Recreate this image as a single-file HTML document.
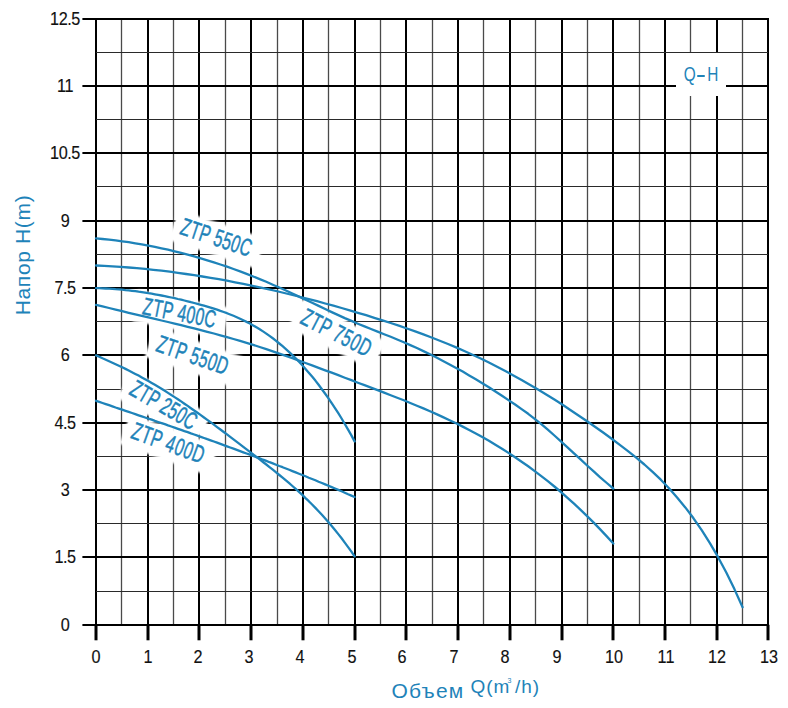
<!DOCTYPE html>
<html><head><meta charset="utf-8"><style>
html,body{margin:0;padding:0;background:#fff;}
body{width:788px;height:708px;position:relative;overflow:hidden;font-family:"Liberation Sans",sans-serif;}
svg{position:absolute;left:0;top:0;}
.yl{position:absolute;left:34.8px;width:60px;text-align:center;font-size:18px;line-height:20px;color:#111;letter-spacing:-0.5px;transform:scaleX(0.9);-webkit-text-stroke:0.15px #111;}
.xl{position:absolute;top:647.3px;width:40px;text-align:center;font-size:18px;line-height:20px;color:#111;transform:scaleX(0.9);-webkit-text-stroke:0.15px #111;}
.lab{position:absolute;width:0;height:0;transform-origin:0 0;}
.lab span{position:absolute;left:-7.3px;bottom:-6px;display:block;white-space:nowrap;background:#fff;box-shadow:0 0 3px 2px #fff;color:#1e83b9;-webkit-text-stroke:0.5px #1e83b9;font-size:24.5px;letter-spacing:0.7px;line-height:23px;padding:1px 14px 4px 10px;transform:scaleX(0.64);transform-origin:0 100%;}
.qh{position:absolute;left:676px;top:53px;width:50px;height:43px;background:#fff;}
.qh span{position:absolute;left:0;top:8.5px;width:50px;text-align:center;color:#1e83b9;font-size:20.5px;line-height:23px;transform:scaleX(0.75);}
.qh i{display:inline-block;width:10px;height:2px;background:#1e83b9;vertical-align:middle;margin:0 3px 0 2.5px;position:relative;top:0.5px;}
.yt{position:absolute;left:22.5px;top:255px;width:0;height:0;}
.yt span{position:absolute;left:0;top:0;white-space:nowrap;color:#1e83b9;font-size:21px;letter-spacing:0.65px;line-height:24px;transform:translate(-50%,-50%) rotate(-90deg);}
.xt{position:absolute;left:391px;top:0;white-space:nowrap;color:#1e83b9;}
.xt1{position:absolute;left:391.5px;top:678.5px;font-size:21px;line-height:24px;letter-spacing:1.2px;color:#1e83b9;white-space:nowrap;}
.xt2{position:absolute;left:470.5px;top:676px;font-size:19px;line-height:22px;letter-spacing:0.9px;color:#1e83b9;white-space:nowrap;}
.xt2 b{font-weight:normal;position:absolute;font-size:7px;line-height:8px;left:37px;top:1px;}
</style></head><body>
<svg width="788" height="708" viewBox="0 0 788 708">
<line x1="96" y1="18" x2="96" y2="624.80" stroke="#000" stroke-width="2"/><line x1="121.5" y1="18.60" x2="121.5" y2="624.80" stroke="#4a4a4a" stroke-width="1.3"/><line x1="148" y1="18" x2="148" y2="624.80" stroke="#000" stroke-width="2"/><line x1="173.5" y1="18.60" x2="173.5" y2="624.80" stroke="#4a4a4a" stroke-width="1.3"/><line x1="199" y1="18" x2="199" y2="624.80" stroke="#000" stroke-width="2"/><line x1="225.5" y1="18.60" x2="225.5" y2="624.80" stroke="#4a4a4a" stroke-width="1.3"/><line x1="251" y1="18" x2="251" y2="624.80" stroke="#000" stroke-width="2"/><line x1="277.5" y1="18.60" x2="277.5" y2="624.80" stroke="#4a4a4a" stroke-width="1.3"/><line x1="303" y1="18" x2="303" y2="624.80" stroke="#000" stroke-width="2"/><line x1="328.5" y1="18.60" x2="328.5" y2="624.80" stroke="#4a4a4a" stroke-width="1.3"/><line x1="355" y1="18" x2="355" y2="624.80" stroke="#000" stroke-width="2"/><line x1="380.5" y1="18.60" x2="380.5" y2="624.80" stroke="#4a4a4a" stroke-width="1.3"/><line x1="406" y1="18" x2="406" y2="624.80" stroke="#000" stroke-width="2"/><line x1="432.5" y1="18.60" x2="432.5" y2="624.80" stroke="#4a4a4a" stroke-width="1.3"/><line x1="458" y1="18" x2="458" y2="624.80" stroke="#000" stroke-width="2"/><line x1="483.5" y1="18.60" x2="483.5" y2="624.80" stroke="#4a4a4a" stroke-width="1.3"/><line x1="510" y1="18" x2="510" y2="624.80" stroke="#000" stroke-width="2"/><line x1="535.5" y1="18.60" x2="535.5" y2="624.80" stroke="#4a4a4a" stroke-width="1.3"/><line x1="562" y1="18" x2="562" y2="624.80" stroke="#000" stroke-width="2"/><line x1="587.5" y1="18.60" x2="587.5" y2="624.80" stroke="#4a4a4a" stroke-width="1.3"/><line x1="613" y1="18" x2="613" y2="624.80" stroke="#000" stroke-width="2"/><line x1="639.5" y1="18.60" x2="639.5" y2="624.80" stroke="#4a4a4a" stroke-width="1.3"/><line x1="665" y1="18" x2="665" y2="624.80" stroke="#000" stroke-width="2"/><line x1="690.5" y1="18.60" x2="690.5" y2="624.80" stroke="#4a4a4a" stroke-width="1.3"/><line x1="717" y1="18" x2="717" y2="624.80" stroke="#000" stroke-width="2"/><line x1="742.5" y1="18.60" x2="742.5" y2="624.80" stroke="#4a4a4a" stroke-width="1.3"/><line x1="768" y1="18" x2="768" y2="624.80" stroke="#000" stroke-width="2"/><line x1="82.4" y1="625" x2="769" y2="625" stroke="#000" stroke-width="2"/><line x1="96.00" y1="591.5" x2="768" y2="591.5" stroke="#2a2a2a" stroke-width="1.15"/><line x1="82.4" y1="557" x2="769" y2="557" stroke="#000" stroke-width="2"/><line x1="96.00" y1="523.5" x2="768" y2="523.5" stroke="#2a2a2a" stroke-width="1.15"/><line x1="82.4" y1="490" x2="769" y2="490" stroke="#000" stroke-width="2"/><line x1="96.00" y1="456.5" x2="768" y2="456.5" stroke="#2a2a2a" stroke-width="1.15"/><line x1="82.4" y1="423" x2="769" y2="423" stroke="#000" stroke-width="2"/><line x1="96.00" y1="389.5" x2="768" y2="389.5" stroke="#2a2a2a" stroke-width="1.15"/><line x1="82.4" y1="355" x2="769" y2="355" stroke="#000" stroke-width="2"/><line x1="96.00" y1="321.5" x2="768" y2="321.5" stroke="#2a2a2a" stroke-width="1.15"/><line x1="82.4" y1="288" x2="769" y2="288" stroke="#000" stroke-width="2"/><line x1="96.00" y1="254.5" x2="768" y2="254.5" stroke="#2a2a2a" stroke-width="1.15"/><line x1="82.4" y1="221" x2="769" y2="221" stroke="#000" stroke-width="2"/><line x1="96.00" y1="186.5" x2="768" y2="186.5" stroke="#2a2a2a" stroke-width="1.15"/><line x1="82.4" y1="153" x2="769" y2="153" stroke="#000" stroke-width="2"/><line x1="96.00" y1="119.5" x2="768" y2="119.5" stroke="#2a2a2a" stroke-width="1.15"/><line x1="82.4" y1="86" x2="769" y2="86" stroke="#000" stroke-width="2"/><line x1="96.00" y1="52.5" x2="768" y2="52.5" stroke="#2a2a2a" stroke-width="1.15"/><line x1="82.4" y1="19" x2="769" y2="19" stroke="#000" stroke-width="2"/><line x1="96" y1="624.80" x2="96" y2="640.3" stroke="#000" stroke-width="3"/><line x1="148" y1="624.80" x2="148" y2="640.3" stroke="#000" stroke-width="3"/><line x1="199" y1="624.80" x2="199" y2="640.3" stroke="#000" stroke-width="3"/><line x1="251" y1="624.80" x2="251" y2="640.3" stroke="#000" stroke-width="3"/><line x1="303" y1="624.80" x2="303" y2="640.3" stroke="#000" stroke-width="3"/><line x1="355" y1="624.80" x2="355" y2="640.3" stroke="#000" stroke-width="3"/><line x1="406" y1="624.80" x2="406" y2="640.3" stroke="#000" stroke-width="3"/><line x1="458" y1="624.80" x2="458" y2="640.3" stroke="#000" stroke-width="3"/><line x1="510" y1="624.80" x2="510" y2="640.3" stroke="#000" stroke-width="3"/><line x1="562" y1="624.80" x2="562" y2="640.3" stroke="#000" stroke-width="3"/><line x1="613" y1="624.80" x2="613" y2="640.3" stroke="#000" stroke-width="3"/><line x1="665" y1="624.80" x2="665" y2="640.3" stroke="#000" stroke-width="3"/><line x1="717" y1="624.80" x2="717" y2="640.3" stroke="#000" stroke-width="3"/><line x1="768" y1="624.80" x2="768" y2="640.3" stroke="#000" stroke-width="3"/>
</svg>
<div class="qh"><span>Q<i></i>H</span></div>
<div class="lab" style="left:178.8px;top:235.0px;transform:rotate(18.3deg)"><span style="letter-spacing:0.5px">ZTP 550C</span></div><div class="lab" style="left:142.4px;top:315.3px;transform:rotate(11.0deg)"><span style="letter-spacing:0.6px">ZTP 400C</span></div><div class="lab" style="left:154.5px;top:351.5px;transform:rotate(19.0deg)"><span style="letter-spacing:0.7px">ZTP 550D</span></div><div class="lab" style="left:298.8px;top:324.0px;transform:rotate(27.0deg)"><span style="letter-spacing:1.0px">ZTP 750D</span></div><div class="lab" style="left:127.5px;top:394.5px;transform:rotate(30.0deg)"><span style="letter-spacing:0.4px">ZTP 250C</span></div><div class="lab" style="left:129.5px;top:439.0px;transform:rotate(20.0deg)"><span style="letter-spacing:1.0px">ZTP 400D</span></div>
<svg width="788" height="708" viewBox="0 0 788 708">
<path d="M96.0,238.4 L102.5,239.0 L109.1,239.7 L115.6,240.4 L122.2,241.3 L128.7,242.2 L135.3,243.3 L141.8,244.4 L148.4,245.6 L154.9,246.9 L161.5,248.3 L168.0,249.7 L174.6,251.3 L181.1,252.9 L187.7,254.6 L194.2,256.4 L200.8,258.3 L207.3,260.3 L213.9,262.4 L220.4,264.5 L227.0,266.7 L233.5,269.0 L240.1,271.4 L246.6,273.9 L253.2,276.5 L259.7,279.1 L266.3,281.8 L272.8,284.7 L279.3,287.5 L285.9,290.5 L292.4,293.5 L299.0,296.6 L305.5,299.7 L312.1,302.8 L318.6,305.9 L325.2,309.0 L331.7,312.1 L338.3,315.1 L344.8,318.1 L351.4,320.9 L357.9,323.7 L364.5,326.4 L371.0,329.0 L377.6,331.6 L384.1,334.2 L390.7,336.8 L397.2,339.5 L403.8,342.2 L410.3,345.1 L416.9,348.0 L423.4,351.1 L430.0,354.2 L436.5,357.5 L443.0,360.9 L449.6,364.4 L456.1,367.9 L462.7,371.6 L469.2,375.4 L475.8,379.3 L482.3,383.3 L488.9,387.3 L495.4,391.5 L502.0,395.7 L508.5,400.1 L515.1,404.5 L521.6,409.1 L528.2,413.8 L534.7,418.8 L541.3,424.1 L547.8,429.7 L554.4,435.5 L560.9,441.4 L567.5,447.4 L574.0,453.4 L580.6,459.4 L587.1,465.5 L593.7,471.4 L600.2,477.3 L606.8,483.0 L613.3,488.5" fill="none" stroke="#1e83b9" stroke-width="2.3" stroke-linejoin="round" stroke-linecap="round"/><path d="M96.0,265.5 L104.2,265.9 L112.4,266.3 L120.6,266.9 L128.7,267.5 L136.9,268.2 L145.1,268.9 L153.3,269.8 L161.5,270.7 L169.7,271.7 L177.9,272.8 L186.0,274.0 L194.2,275.2 L202.4,276.5 L210.6,277.8 L218.8,279.2 L227.0,280.7 L235.1,282.3 L243.3,283.9 L251.5,285.6 L259.7,287.4 L267.9,289.2 L276.1,291.0 L284.3,293.0 L292.4,295.0 L300.6,297.0 L308.8,299.1 L317.0,301.2 L325.2,303.5 L333.4,305.7 L341.6,308.0 L349.7,310.4 L357.9,312.8 L366.1,315.2 L374.3,317.8 L382.5,320.3 L390.7,323.0 L398.8,325.7 L407.0,328.5 L415.2,331.4 L423.4,334.4 L431.6,337.5 L439.8,340.7 L448.0,344.0 L456.1,347.4 L464.3,351.0 L472.5,354.7 L480.7,358.5 L488.9,362.5 L497.1,366.7 L505.3,371.0 L513.4,375.4 L521.6,380.0 L529.8,384.7 L538.0,389.5 L546.2,394.5 L554.4,399.6 L562.6,404.8 L570.7,410.2 L578.9,415.7 L587.1,421.3 L595.3,427.0 L603.5,432.8 L611.7,438.8 L619.8,444.9 L628.0,451.1 L636.2,457.7 L644.4,464.5 L652.6,471.9 L660.8,479.7 L669.0,488.2 L677.1,497.4 L685.3,507.4 L693.5,518.3 L701.7,530.2 L709.9,543.1 L718.1,557.2 L726.3,572.5 L734.4,589.1 L742.6,607.2" fill="none" stroke="#1e83b9" stroke-width="2.3" stroke-linejoin="round" stroke-linecap="round"/><path d="M96.0,288.1 L99.3,288.2 L102.5,288.3 L105.8,288.5 L109.1,288.7 L112.4,288.9 L115.6,289.2 L118.9,289.4 L122.2,289.7 L125.5,290.1 L128.7,290.4 L132.0,290.8 L135.3,291.2 L138.6,291.7 L141.8,292.1 L145.1,292.6 L148.4,293.2 L151.7,293.7 L154.9,294.3 L158.2,294.9 L161.5,295.5 L164.8,296.1 L168.0,296.8 L171.3,297.5 L174.6,298.2 L177.9,299.0 L181.1,299.7 L184.4,300.5 L187.7,301.3 L190.9,302.2 L194.2,303.0 L197.5,303.9 L200.8,304.8 L204.0,305.7 L207.3,306.7 L210.6,307.7 L213.9,308.7 L217.1,309.7 L220.4,310.9 L223.7,312.0 L227.0,313.2 L230.2,314.5 L233.5,315.8 L236.8,317.2 L240.1,318.7 L243.3,320.3 L246.6,321.9 L249.9,323.6 L253.2,325.4 L256.4,327.3 L259.7,329.3 L263.0,331.4 L266.3,333.6 L269.5,335.9 L272.8,338.3 L276.1,340.8 L279.3,343.5 L282.6,346.2 L285.9,349.1 L289.2,352.1 L292.4,355.2 L295.7,358.4 L299.0,361.8 L302.3,365.3 L305.5,368.9 L308.8,372.7 L312.1,376.6 L315.4,380.6 L318.6,384.8 L321.9,389.2 L325.2,393.7 L328.5,398.3 L331.7,403.1 L335.0,408.1 L338.3,413.2 L341.6,418.5 L344.8,424.0 L348.1,429.6 L351.4,435.4 L354.6,441.4" fill="none" stroke="#1e83b9" stroke-width="2.3" stroke-linejoin="round" stroke-linecap="round"/><path d="M96.0,304.8 L102.5,306.4 L109.1,308.0 L115.6,309.6 L122.2,311.2 L128.7,312.8 L135.3,314.3 L141.8,315.9 L148.4,317.4 L154.9,318.9 L161.5,320.5 L168.0,322.0 L174.6,323.6 L181.1,325.2 L187.7,326.8 L194.2,328.4 L200.8,330.1 L207.3,331.8 L213.9,333.5 L220.4,335.3 L227.0,337.1 L233.5,339.0 L240.1,340.9 L246.6,342.9 L253.2,344.9 L259.7,347.0 L266.3,349.1 L272.8,351.3 L279.3,353.6 L285.9,355.9 L292.4,358.2 L299.0,360.6 L305.5,363.0 L312.1,365.4 L318.6,367.8 L325.2,370.3 L331.7,372.7 L338.3,375.2 L344.8,377.7 L351.4,380.2 L357.9,382.7 L364.5,385.1 L371.0,387.6 L377.6,390.1 L384.1,392.6 L390.7,395.2 L397.2,397.7 L403.8,400.3 L410.3,403.0 L416.9,405.7 L423.4,408.4 L430.0,411.2 L436.5,414.1 L443.0,417.1 L449.6,420.2 L456.1,423.3 L462.7,426.6 L469.2,430.0 L475.8,433.5 L482.3,437.1 L488.9,440.8 L495.4,444.7 L502.0,448.7 L508.5,452.9 L515.1,457.2 L521.6,461.7 L528.2,466.3 L534.7,471.1 L541.3,476.1 L547.8,481.2 L554.4,486.5 L560.9,492.0 L567.5,497.8 L574.0,503.7 L580.6,509.8 L587.1,516.1 L593.7,522.6 L600.2,529.4 L606.8,536.4 L613.3,543.6" fill="none" stroke="#1e83b9" stroke-width="2.3" stroke-linejoin="round" stroke-linecap="round"/><path d="M96.0,355.4 L99.3,356.8 L102.5,358.3 L105.8,359.7 L109.1,361.2 L112.4,362.7 L115.6,364.2 L118.9,365.7 L122.2,367.3 L125.5,368.9 L128.7,370.5 L132.0,372.2 L135.3,373.9 L138.6,375.6 L141.8,377.4 L145.1,379.2 L148.4,381.0 L151.7,382.9 L154.9,384.8 L158.2,386.8 L161.5,388.8 L164.8,390.8 L168.0,392.9 L171.3,395.0 L174.6,397.1 L177.9,399.2 L181.1,401.4 L184.4,403.7 L187.7,405.9 L190.9,408.2 L194.2,410.5 L197.5,412.8 L200.8,415.1 L204.0,417.5 L207.3,419.9 L210.6,422.2 L213.9,424.7 L217.1,427.1 L220.4,429.5 L223.7,432.0 L227.0,434.4 L230.2,436.9 L233.5,439.4 L236.8,441.9 L240.1,444.4 L243.3,446.9 L246.6,449.4 L249.9,451.9 L253.2,454.4 L256.4,456.9 L259.7,459.4 L263.0,462.0 L266.3,464.5 L269.5,467.1 L272.8,469.7 L276.1,472.3 L279.3,475.0 L282.6,477.7 L285.9,480.4 L289.2,483.2 L292.4,486.0 L295.7,488.9 L299.0,491.9 L302.3,494.9 L305.5,498.1 L308.8,501.2 L312.1,504.5 L315.4,507.9 L318.6,511.3 L321.9,514.8 L325.2,518.5 L328.5,522.2 L331.7,526.0 L335.0,530.0 L338.3,534.1 L341.6,538.3 L344.8,542.6 L348.1,547.1 L351.4,551.7 L354.6,556.4" fill="none" stroke="#1e83b9" stroke-width="2.3" stroke-linejoin="round" stroke-linecap="round"/><path d="M96.0,400.8 L99.3,401.9 L102.5,403.0 L105.8,404.1 L109.1,405.2 L112.4,406.3 L115.6,407.5 L118.9,408.6 L122.2,409.7 L125.5,410.8 L128.7,411.9 L132.0,413.0 L135.3,414.1 L138.6,415.3 L141.8,416.4 L145.1,417.5 L148.4,418.6 L151.7,419.7 L154.9,420.9 L158.2,422.0 L161.5,423.1 L164.8,424.2 L168.0,425.4 L171.3,426.5 L174.6,427.6 L177.9,428.8 L181.1,429.9 L184.4,431.1 L187.7,432.2 L190.9,433.4 L194.2,434.5 L197.5,435.7 L200.8,436.8 L204.0,438.0 L207.3,439.2 L210.6,440.3 L213.9,441.5 L217.1,442.7 L220.4,443.9 L223.7,445.1 L227.0,446.3 L230.2,447.5 L233.5,448.7 L236.8,449.9 L240.1,451.1 L243.3,452.3 L246.6,453.5 L249.9,454.7 L253.2,455.9 L256.4,457.2 L259.7,458.4 L263.0,459.7 L266.3,460.9 L269.5,462.2 L272.8,463.4 L276.1,464.7 L279.3,466.0 L282.6,467.2 L285.9,468.5 L289.2,469.8 L292.4,471.1 L295.7,472.4 L299.0,473.7 L302.3,475.0 L305.5,476.3 L308.8,477.7 L312.1,479.0 L315.4,480.3 L318.6,481.7 L321.9,483.0 L325.2,484.4 L328.5,485.8 L331.7,487.1 L335.0,488.5 L338.3,489.9 L341.6,491.3 L344.8,492.7 L348.1,494.2 L351.4,495.6 L354.6,497.0" fill="none" stroke="#1e83b9" stroke-width="2.3" stroke-linejoin="round" stroke-linecap="round"/>
</svg>
<div class="yl" style="top:614.8px">0</div><div class="yl" style="top:547.4px">1.5</div><div class="yl" style="top:480.1px">3</div><div class="yl" style="top:412.7px">4.5</div><div class="yl" style="top:345.4px">6</div><div class="yl" style="top:278.0px">7.5</div><div class="yl" style="top:210.7px">9</div><div class="yl" style="top:143.3px">10.5</div><div class="yl" style="top:76.0px">11</div><div class="yl" style="top:8.6px">12.5</div>
<div class="xl" style="left:76.4px">0</div><div class="xl" style="left:127.8px">1</div><div class="xl" style="left:177.5px">2</div><div class="xl" style="left:229.0px">3</div><div class="xl" style="left:279.7px">4</div><div class="xl" style="left:331.5px">5</div><div class="xl" style="left:382.3px">6</div><div class="xl" style="left:433.5px">7</div><div class="xl" style="left:485.3px">8</div><div class="xl" style="left:537.0px">9</div><div class="xl" style="left:594.2px">10</div><div class="xl" style="left:645.9px">11</div><div class="xl" style="left:697.3px">12</div><div class="xl" style="left:749.0px">13</div>
<div class="yt"><span>Напор H(m)</span></div>
<div class="xt1">Объем</div><div class="xt2">Q(m&#8202;&#8202;/h)<b>3</b></div>
</body></html>
